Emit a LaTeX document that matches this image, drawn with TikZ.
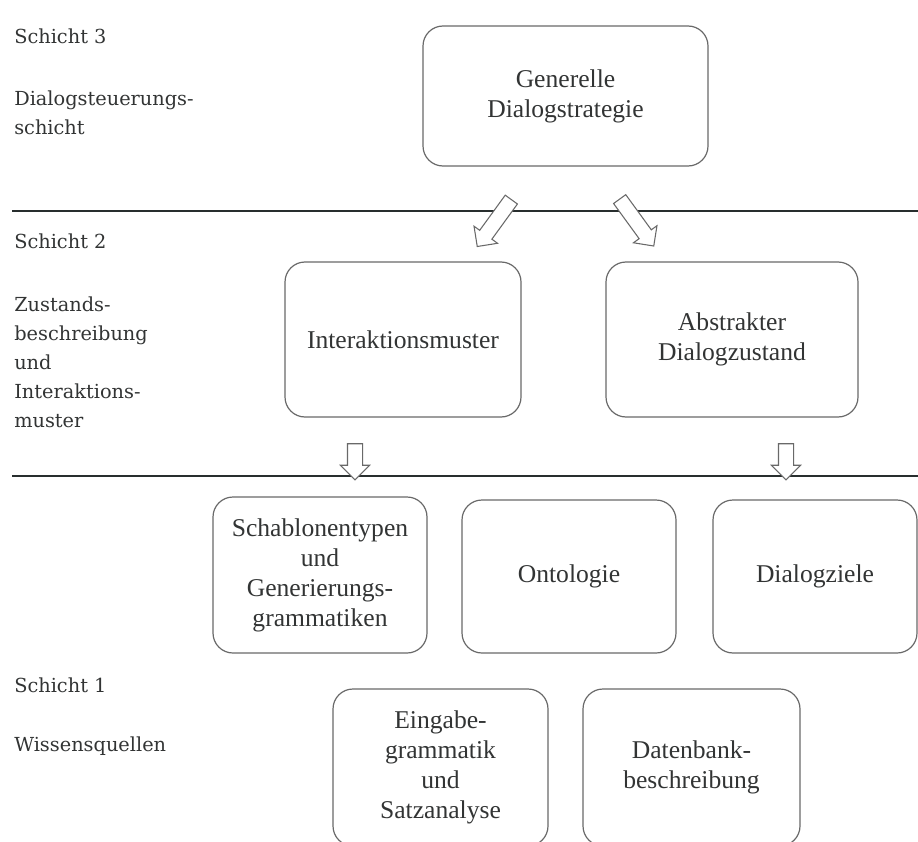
\documentclass[tikz,border=0pt]{standalone}
\usepackage{fontspec}
\setmainfont{Liberation Serif}
\newfontfamily\layerfont{DejaVu Serif}
\usepackage{xcolor}
\definecolor{inkgray}{RGB}{50,52,52}
\definecolor{boxgray}{RGB}{105,105,105}
\definecolor{rulegray}{RGB}{40,46,46}
\usetikzlibrary{shapes.arrows}
\tikzset{
  box/.style    ={rectangle,rounded corners=15pt,draw=boxgray,line width=0.9pt,
                  align=center,text=inkgray,font=\fontsize{19.2}{22.5}\selectfont},
  layer/.style  ={anchor=base west,align=left,inner sep=0pt,text=inkgray,
                  font=\layerfont\fontsize{14.5}{21.75}\selectfont},
  hollow/.style ={single arrow,draw=boxgray,fill=white,line width=0.8pt,inner sep=5.25pt,
                  single arrow head extend=5.25pt,single arrow head indent=0pt},
  divider/.style={line width=1.4pt,draw=rulegray},
}

\begin{document}
\begin{tikzpicture}[x=0.75pt,y=-0.75pt]
  \useasboundingbox (0,0) rectangle (918,842);
  \clip (0,0) rectangle (918,842);
  % layer labels (placed at the baseline of their last line)
  \node[layer] (s3)  at (14,44)  {Schicht 3};
  \node[layer] (s3n) at (14,135) {Dialogsteuerungs-\\schicht};
  \node[layer] (s2)  at (14,248) {Schicht 2};
  \node[layer] (s2n) at (14,427) {Zustands-\\beschreibung\\und\\Interaktions-\\muster};
  \node[layer] (s1)  at (14,692) {Schicht 1};
  \node[layer] (s1n) at (14,751) {Wissensquellen};
  % dividers
  \draw[divider] (12,211) -- (918,211);
  \draw[divider] (12,476) -- (918,476);
  % boxes
  \node[box,minimum width=213.75pt,minimum height=105pt]   (strat) at (565.5,96)   {Generelle\\Dialogstrategie};
  \node[box,minimum width=177pt,minimum height=116.25pt]   (inter) at (403,339.5)  {Interaktionsmuster};
  \node[box,minimum width=189pt,minimum height=116.25pt]   (zust)  at (732,339.5)  {Abstrakter\\Dialogzustand};
  \node[box,minimum width=160.5pt,minimum height=117pt]    (schab) at (320,575)    {Schablonentypen\\und\\Generierungs-\\grammatiken};
  \node[box,minimum width=160.5pt,minimum height=114.75pt] (onto)  at (569,576.5)  {Ontologie};
  \node[box,minimum width=153pt,minimum height=114.75pt]   (ziele) at (815,576.5)  {Dialogziele};
  \node[box,minimum width=161.25pt,minimum height=117.75pt](eing)  at (440.5,767.5){Eingabe-\\grammatik\\und\\Satzanalyse};
  \node[box,minimum width=162.75pt,minimum height=117.75pt](daten) at (691.5,767.5){Datenbank-\\beschreibung};
  % hollow arrows
  \node[hollow,minimum height=43.5pt,rotate=234] (a1) at (496.5,220) {};
  \node[hollow,minimum height=43.5pt,rotate=306] (a2) at (634.5,219.5) {};
  \node[hollow,minimum height=27pt,rotate=-90]   (a3) at (355,458) {};
  \node[hollow,minimum height=27pt,rotate=-90]   (a4) at (786,458) {};
\end{tikzpicture}
\end{document}
